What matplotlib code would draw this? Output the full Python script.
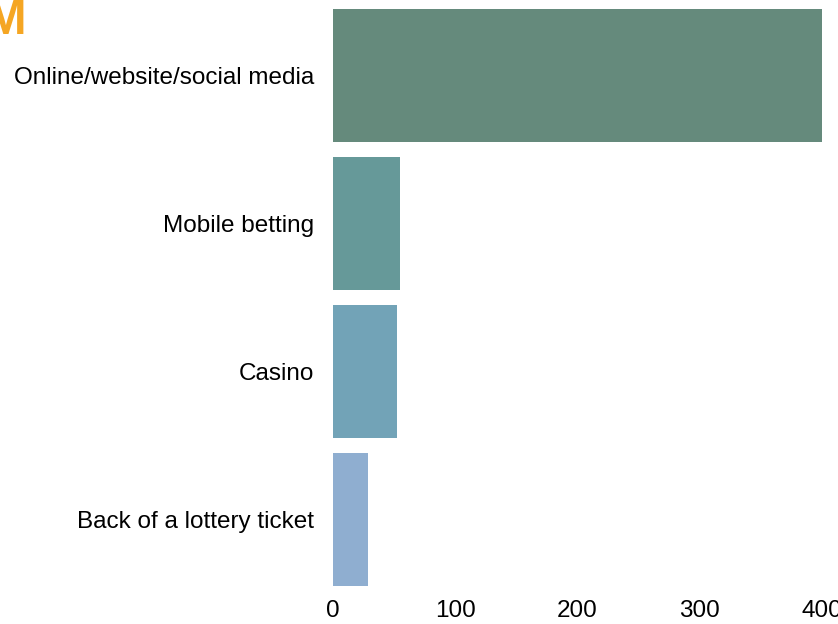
import matplotlib.pyplot as plt

plt.rcParams['font.family'] = ['Liberation Sans', 'DejaVu Sans']

# where people saw gambling ads
categories = ["Online/website/social media", "Mobile betting", "Casino", "Back of a lottery ticket"]
values = [400, 55, 52, 29]
colors = ["#658a7c", "#669999", "#72a3b7", "#8faed0"]

fig = plt.figure(figsize=(8.38, 6.24), dpi=100)
ax = fig.add_axes([0.3974, 0.049, 0.5836, 0.9486])

ax.barh(categories, values, height=0.9, color=colors)
ax.set_ylim(3.5, -0.5)
ax.set_xlim(0, 400)
ax.set_xticks([0, 100, 200, 300, 400])

for s in ax.spines.values():
    s.set_visible(False)
ax.tick_params(axis='both', length=0, labelsize=17.5, colors='black')
ax.tick_params(axis='y', pad=13.5)
ax.tick_params(axis='x', pad=5)

# cut-off title letter in the corner
fig.text(26 / 838, 1 - 34 / 624, "M", ha='right', va='baseline',
         fontsize=36, fontweight='bold', color='#f5a623')

fig.savefig("out.png", dpi=100)
